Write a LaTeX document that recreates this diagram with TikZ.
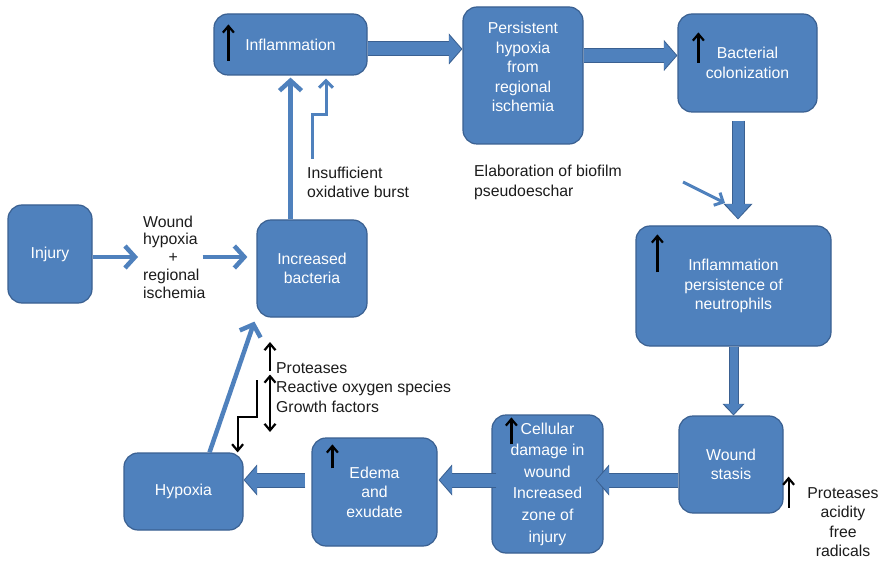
\documentclass[tikz,border=0pt]{standalone}
\usepackage{fontspec}
\setmainfont{Liberation Sans}
\usetikzlibrary{arrows.meta,calc}
\definecolor{boxfill}{RGB}{79,129,189}
\definecolor{boxdraw}{RGB}{58,96,145}
\definecolor{inkc}{RGB}{28,28,28}

\begin{document}
\begin{tikzpicture}[x=1pt, y=-1pt,
  box/.style={rounded corners=14pt, draw=boxdraw, fill=boxfill, line width=1.2pt, text=white, align=center, inner sep=2pt, font=\fontsize{15.8}{19.5}\selectfont},
  txt/.style={text=inkc, inner sep=2pt, font=\fontsize{15.8}{19.5}\selectfont},
  hout/.style={draw=boxdraw, line width=15pt, -{Triangle[width=31pt,length=13.5pt,line width=0pt]}},
  hin/.style={draw=boxfill, line width=13pt, shorten >=1.2pt, -{Triangle[width=27pt,length=12pt,line width=0pt]}},
  vout/.style={draw=boxdraw, line width=13pt, -{Triangle[width=29pt,length=15.5pt,line width=0pt]}},
  vin/.style={draw=boxfill, line width=11pt, shorten >=1.2pt, -{Triangle[width=25pt,length=14pt,line width=0pt]}},
  sout/.style={draw=boxdraw, line width=10pt, -{Triangle[width=22pt,length=11.5pt,line width=0pt]}},
  sin/.style={draw=boxfill, line width=8pt, shorten >=1.2pt, -{Triangle[width=18pt,length=10pt,line width=0pt]}},
  larr/.style={draw=boxfill, line width=4.5pt, -{Straight Barb[length=10pt,width=22pt]}},
  larrs/.style={draw=boxfill, line width=3pt, -{Straight Barb[length=7pt,width=14pt]}},
  blk/.style={draw=black, line width=2.2pt, -{Straight Barb[length=6.5pt,width=11pt]}},
  blkd/.style={draw=black, line width=2.2pt, {Straight Barb[length=6.5pt,width=11pt]}-{Straight Barb[length=6.5pt,width=11pt]}},
]
\path[fill=white] (0,0) rectangle (883,561);
\useasboundingbox (0,0) rectangle (883,561);

% ============ boxes ============
\node[box, minimum width=84pt, minimum height=98pt] (injury) at (50,254) {Injury};
\node[box, minimum width=110pt, minimum height=97pt] (bact) at (312,268.5) {Increased\\bacteria};
\node[box, minimum width=153pt, minimum height=61pt] (infl) at (290.5,44.5) {Inflammation};
\node[box, minimum width=120pt, minimum height=137pt] (persist) at (523,75.5) {Persistent\\hypoxia\\from\\regional\\ischemia\\[-3pt]\mbox{}};
\node[box, minimum width=139pt, minimum height=98pt] (colon) at (747.5,63) {Bacterial\\colonization};
\node[box, minimum width=195pt, minimum height=120pt] (infp) at (733.5,286) {Inflammation\\persistence of\\neutrophils};
\node[box, minimum width=104pt, minimum height=97pt] (stasis) at (731,464.5) {Wound\\stasis};
\node[box, minimum width=111pt, minimum height=138pt, font=\fontsize{15.8}{21.6}\selectfont] (cell) at (547.5,484) {Cellular\\damage in\\wound\\Increased\\zone of\\injury};
\node[box, minimum width=125pt, minimum height=108pt] (edema) at (374.5,492) {Edema\\and\\exudate};
\node[box, minimum width=119pt, minimum height=77pt] (hyp) at (183.5,491.5) {Hypoxia};

% ============ free text ============
\node[txt, anchor=west, align=left, font=\fontsize{15.8}{17.8}\selectfont] (woundtxt) at (141,257) {Wound\\hypoxia\\\hspace*{25.5pt}+\\regional\\ischemia};
\node[txt, anchor=west, align=left] (oxtxt) at (305,182.5) {Insufficient\\oxidative burst};
\node[txt, anchor=west, align=left] (biotxt) at (472,182.5) {Elaboration of biofilm\\pseudoeschar};
\node[txt, anchor=west, align=left] (prottxt) at (274,387.5) {Proteases\\Reactive oxygen species\\Growth factors};
\node[txt, align=center] (acidtxt) at (843,522) {Proteases\\acidity\\free\\radicals};

% ============ line arrows ============
\draw[larr] (injury.east |- woundtxt.west) -- ([xshift=-3pt]woundtxt.west);
\draw[larr] ([xshift=-5pt]woundtxt.east) -- ($(bact.west |- woundtxt.east)+(-9,0)$);
\draw[larr] (infl.south |- bact.north) -- ([yshift=-2pt]infl.south);
\draw[larr] ([xshift=26pt]hyp.north) -- ([xshift=-2pt,yshift=-4pt]bact.south west);
\coordinate (oxbend) at (326,115);
\draw[larrs] ([xshift=7pt,yshift=6pt]oxtxt.north west) |- (oxbend) -- ($(oxbend |- infl.south)+(0,3)$);
\coordinate (biofrom) at (683,182);
\coordinate (bioto) at (725,203);
\draw[larrs] (biofrom) -- (bioto);

% ============ block arrows ============
\foreach \lay in {hout,hin}{
  \draw[\lay] ([yshift=-4.5pt]infl.east) -- ($(persist.west |- infl.east)+(0,4.5)$);
  \draw[\lay] ($(persist.east |- colon.west)+(0,-7.5)$) -- ([yshift=7.5pt]colon.west);
  \draw[\lay] ($(stasis.west |- cell.east)+(0,-4)$) -- ($(cell.east)+(-8,-4)$);
  \draw[\lay] ($(cell.west)+(5,-4)$) -- ($(edema.east |- cell.west)+(1,-4)$);
  \draw[\lay] ($(edema.west)+(-6,-12)$) -- ($(hyp.east |- edema.west)+(0,-12)$);
}
\foreach \lay in {vout,vin}{
  \draw[\lay] ($(infp.north |- colon.south)+(4.5,8)$) -- ($(infp.north)+(4.5,-6)$);
}
\foreach \lay in {sout,sin}{
  \draw[\lay] (infp.south) -- (infp.south |- stasis.north);
}

% ============ black marks ============
\draw[blk] ([xshift=15pt,yshift=15pt]infl.south west) -- ([xshift=15pt,yshift=-11pt]infl.north west);
\draw[blk] ([xshift=21pt,yshift=50pt]colon.south west) -- ([xshift=21pt,yshift=-19pt]colon.north west);
\draw[blk] ([xshift=22pt,yshift=-47pt]infp.north west) -- ([xshift=22pt,yshift=-9pt]infp.north west);
\draw[blk] ([xshift=20pt,yshift=-30pt]cell.north west) -- ([xshift=20pt,yshift=-3pt]cell.north west);
\draw[blk] ([xshift=21pt,yshift=-31pt]edema.north west) -- ([xshift=21pt,yshift=-7pt]edema.north west);
\draw[blk] ([xshift=5pt,yshift=6pt]stasis.south east) -- ([xshift=5pt,yshift=37pt]stasis.south east);
\draw[blk] ([xshift=-4pt,yshift=17pt]prottxt.west) -- ([xshift=-4pt,yshift=45.5pt]prottxt.west);
\draw[blkd] ([xshift=-4pt,yshift=13pt]prottxt.west) -- ([xshift=-4pt,yshift=-44.5pt]prottxt.west);
\coordinate (gftop) at (257,380);
\coordinate (gfbend) at (257,417);
\draw[blk] (gftop) -- (gfbend) -| ([xshift=-6pt]hyp.north east);
\end{tikzpicture}
\end{document}
